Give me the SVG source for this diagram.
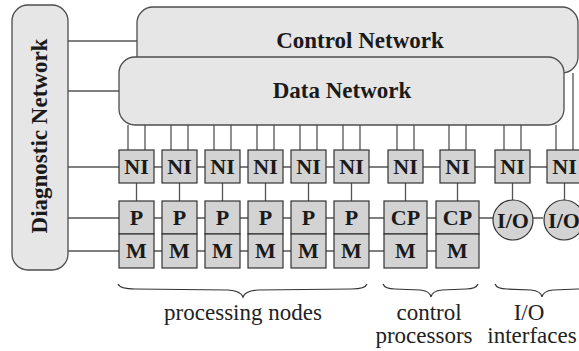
<svg xmlns="http://www.w3.org/2000/svg" width="579" height="351" viewBox="0 0 579 351">
<style>
.net{fill:#e6e6e6;stroke:#4d4d4d;stroke-width:1.3}
.box{fill:#d3d3d3;stroke:#333;stroke-width:1.2}
.ln{stroke:#555;stroke-width:1.3;fill:none}
.bl{font-family:"Liberation Serif","Times New Roman",serif;font-weight:bold;font-size:22px;fill:#1a1a1a;text-anchor:middle}
.big{font-size:23px}
.lb{font-family:"Liberation Serif","Times New Roman",serif;font-size:23px;fill:#222;text-anchor:middle}
.br{stroke:#333;stroke-width:1.2;fill:none}
</style>
<rect width="579" height="351" fill="#fff"/>
<g id="connectors">
<path class="ln" d="M68,41H137M68,91H119M68,167H119M68,218H119M68,251H119"/>
<path class="ln" d="M154,167H162M197,167H205M240,167H248M283,167H291M326,167H334M369,167H388M423,167H440M475,167H495M530,167H547M582,167H590"/>
<path class="ln" d="M154,218H162M197,218H205M240,218H248M283,218H291M326,218H334M369,218H384M427,218H436M479,218H493M533,218H543"/>
<path class="ln" d="M154,251H162M197,251H205M240,251H248M283,251H291M326,251H334M369,251H384M427,251H436"/>
<path class="ln" d="M128,125V150M145,125V150M171,125V150M188,125V150M214,125V150M231,125V150M257,125V150M274,125V150M300,125V150M317,125V150M343,125V150M360,125V150M397,125V150M414,125V150M449,125V150M466,125V150M504,125V150M521,125V150M556,125V150M573,73V150"/>
<path class="ln" d="M136.5,183V201M179.5,183V201M222.5,183V201M265.5,183V201M308.5,183V201M351.5,183V201M405.5,183V201M457.5,183V201M512.5,183V200M564.5,183V200"/>
</g>
<g id="control-network"><rect class="net" x="137" y="7" width="441" height="66" rx="16"/><text class="bl big" x="360" y="48">Control Network</text></g>
<g id="data-network"><rect class="net" x="119" y="57" width="445" height="68" rx="16"/><text class="bl big" x="342" y="98">Data Network</text></g>
<g id="diagnostic-network"><rect class="net" x="12" y="5" width="56" height="265" rx="16"/><text class="bl big" transform="translate(47,136) rotate(-90)">Diagnostic Network</text></g>
<g id="ni1"><rect class="box" x="119" y="150" width="35" height="33"/><text class="bl" x="136.5" y="174">NI</text></g>
<g id="ni2"><rect class="box" x="162" y="150" width="35" height="33"/><text class="bl" x="179.5" y="174">NI</text></g>
<g id="ni3"><rect class="box" x="205" y="150" width="35" height="33"/><text class="bl" x="222.5" y="174">NI</text></g>
<g id="ni4"><rect class="box" x="248" y="150" width="35" height="33"/><text class="bl" x="265.5" y="174">NI</text></g>
<g id="ni5"><rect class="box" x="291" y="150" width="35" height="33"/><text class="bl" x="308.5" y="174">NI</text></g>
<g id="ni6"><rect class="box" x="334" y="150" width="35" height="33"/><text class="bl" x="351.5" y="174">NI</text></g>
<g id="ni7"><rect class="box" x="388" y="150" width="35" height="33"/><text class="bl" x="405.5" y="174">NI</text></g>
<g id="ni8"><rect class="box" x="440" y="150" width="35" height="33"/><text class="bl" x="457.5" y="174">NI</text></g>
<g id="ni9"><rect class="box" x="495" y="150" width="35" height="33"/><text class="bl" x="512.5" y="174">NI</text></g>
<g id="ni10"><rect class="box" x="547" y="150" width="35" height="33"/><text class="bl" x="564.5" y="174">NI</text></g>
<g id="p1"><rect class="box" x="119" y="201" width="35" height="33"/><text class="bl" x="136.5" y="225">P</text></g>
<g id="p2"><rect class="box" x="162" y="201" width="35" height="33"/><text class="bl" x="179.5" y="225">P</text></g>
<g id="p3"><rect class="box" x="205" y="201" width="35" height="33"/><text class="bl" x="222.5" y="225">P</text></g>
<g id="p4"><rect class="box" x="248" y="201" width="35" height="33"/><text class="bl" x="265.5" y="225">P</text></g>
<g id="p5"><rect class="box" x="291" y="201" width="35" height="33"/><text class="bl" x="308.5" y="225">P</text></g>
<g id="p6"><rect class="box" x="334" y="201" width="35" height="33"/><text class="bl" x="351.5" y="225">P</text></g>
<g id="cp1"><rect class="box" x="384" y="201" width="43" height="33"/><text class="bl" x="405.5" y="225">CP</text></g>
<g id="cp2"><rect class="box" x="436" y="201" width="43" height="33"/><text class="bl" x="457.5" y="225">CP</text></g>
<g id="m1"><rect class="box" x="119" y="234" width="35" height="34"/><text class="bl" x="136.5" y="258">M</text></g>
<g id="m2"><rect class="box" x="162" y="234" width="35" height="34"/><text class="bl" x="179.5" y="258">M</text></g>
<g id="m3"><rect class="box" x="205" y="234" width="35" height="34"/><text class="bl" x="222.5" y="258">M</text></g>
<g id="m4"><rect class="box" x="248" y="234" width="35" height="34"/><text class="bl" x="265.5" y="258">M</text></g>
<g id="m5"><rect class="box" x="291" y="234" width="35" height="34"/><text class="bl" x="308.5" y="258">M</text></g>
<g id="m6"><rect class="box" x="334" y="234" width="35" height="34"/><text class="bl" x="351.5" y="258">M</text></g>
<g id="m7"><rect class="box" x="384" y="234" width="43" height="34"/><text class="bl" x="405.5" y="258">M</text></g>
<g id="m8"><rect class="box" x="436" y="234" width="43" height="34"/><text class="bl" x="457.5" y="258">M</text></g>
<g id="io1"><circle class="box" cx="513" cy="220" r="20"/><text class="bl" x="513" y="227.5">I/O</text></g>
<g id="io2"><circle class="box" cx="564" cy="220" r="20"/><text class="bl" x="564" y="227.5">I/O</text></g>
<g id="braces">
<path class="br" d="M118,284Q120,289 135,289L228,290Q241,291 243,297Q245,291 258,290L352,289Q365,289 367,284"/>
<path class="br" d="M383,284Q385,289 395,289L420,290Q430,291 431,297Q432,291 442,290L466,289Q476,289 478,284"/>
<path class="br" d="M495,284Q497,289 507,289L531,290Q541,291 542,297Q543,291 553,290L578,289Q588,289 590,284"/>
</g>
<g id="labels">
<text class="lb" x="243" y="320">processing nodes</text>
<text class="lb" x="429" y="320">control</text>
<text class="lb" x="424" y="343">processors</text>
<text class="lb" x="529" y="320">I/O</text>
<text class="lb" x="532" y="343">interfaces</text>
</g>
</svg>
